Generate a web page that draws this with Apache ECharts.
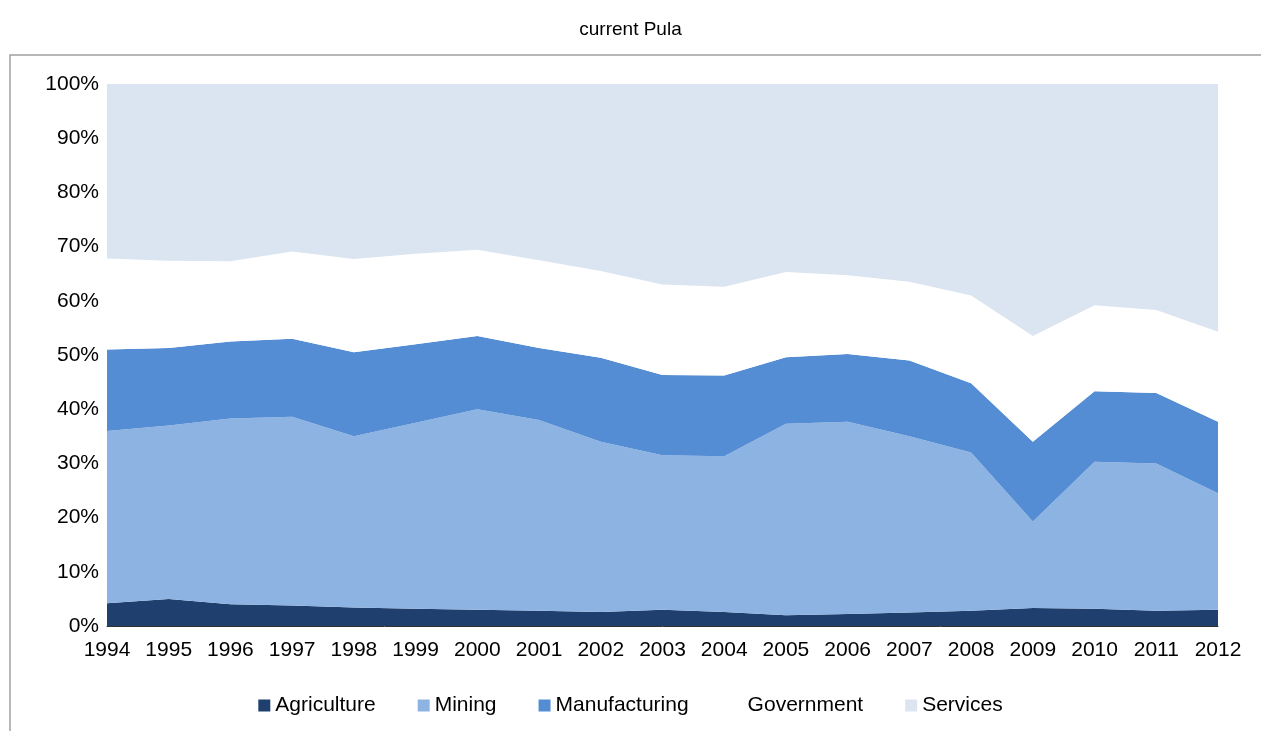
<!DOCTYPE html>
<html style="height: 100%">
<head>
  <meta charset="utf-8">
</head>
<body style="height: 100%; margin: 0">
  <div id="container" style="height: 100%"></div>
  <script type="text/javascript" src="https://cdn.jsdelivr.net/npm/echarts@6/dist/echarts.min.js"></script>
  <script type="text/javascript">
    var years = ['1994','1995','1996','1997','1998','1999','2000','2001','2002','2003','2004','2005','2006','2007','2008','2009','2010','2011','2012'];
    var agriculture = [4.2, 5, 4, 3.8, 3.4, 3.2, 3, 2.8, 2.6, 3, 2.6, 2, 2.2, 2.5, 2.8, 3.3, 3.2, 2.8, 3];
    var mining = [31.8, 32, 34.3, 34.8, 31.6, 34.3, 37, 35.2, 31.4, 28.5, 28.7, 35.3, 35.5, 32.5, 29.2, 16, 27.1, 27.2, 21.5];
    var manufacturing = [15, 14.3, 14.2, 14.4, 15.5, 14.5, 13.5, 13.3, 15.5, 14.8, 14.9, 12.3, 12.5, 14, 12.8, 14.7, 13, 13, 13.2];
    var government = [16.8, 16.1, 14.8, 16.1, 17.2, 16.7, 15.9, 16.2, 16, 16.7, 16.4, 15.7, 14.5, 14.5, 16.2, 19.5, 15.9, 15.3, 16.6];
    var services = [32.2, 32.6, 32.7, 30.9, 32.3, 31.3, 30.6, 32.5, 34.5, 37, 37.4, 34.7, 35.3, 36.5, 39, 46.5, 40.8, 41.7, 45.7];

    var myChart = echarts.init(document.getElementById('container'));

    function area(name, data, color) {
      return {
        name: name,
        type: 'line',
        stack: 'total',
        data: data,
        showSymbol: false,
        lineStyle: { width: 0 },
        areaStyle: { color: color, opacity: 1 },
        itemStyle: { color: color }
      };
    }

    var option = {
      backgroundColor: '#fff',
      animation: false,
      textStyle: { fontFamily: 'Liberation Sans, Arial, sans-serif' },
      title: {
        text: 'current Pula',
        left: 'center',
        top: 15,
        textStyle: { fontSize: 19, fontWeight: 'normal', color: '#000' }
      },
      graphic: [{
        type: 'rect',
        shape: { x: 10, y: 55, width: 1260, height: 700 },
        style: { fill: 'none', stroke: '#a0a0a0', lineWidth: 1.5 },
        z: -1
      }],
      legend: {
        bottom: 10,
        icon: 'rect',
        itemWidth: 12,
        itemHeight: 12,
        itemGap: 42,
        textStyle: { fontSize: 21, color: '#000' },
        data: ['Agriculture', 'Mining', 'Manufacturing', 'Government', 'Services']
      },
      grid: { left: 107, right: 43, top: 84, bottom: 105 },
      xAxis: {
        type: 'category',
        data: years,
        boundaryGap: false,
        axisLine: { lineStyle: { color: '#333' } },
        axisTick: { show: false },
        axisLabel: { fontSize: 21, color: '#000', margin: 14 }
      },
      yAxis: {
        type: 'value',
        min: 0,
        max: 100,
        interval: 10,
        splitLine: { show: false },
        axisLabel: { fontSize: 21, color: '#000', formatter: '{value}%' }
      },
      series: [
        area('Agriculture', agriculture, '#1f3f6e'),
        area('Mining', mining, '#8db3e2'),
        area('Manufacturing', manufacturing, '#548dd4'),
        area('Government', government, '#ffffff'),
        area('Services', services, '#dbe5f1')
      ]
    };
    myChart.setOption(option);
  </script>
</body>
</html>
